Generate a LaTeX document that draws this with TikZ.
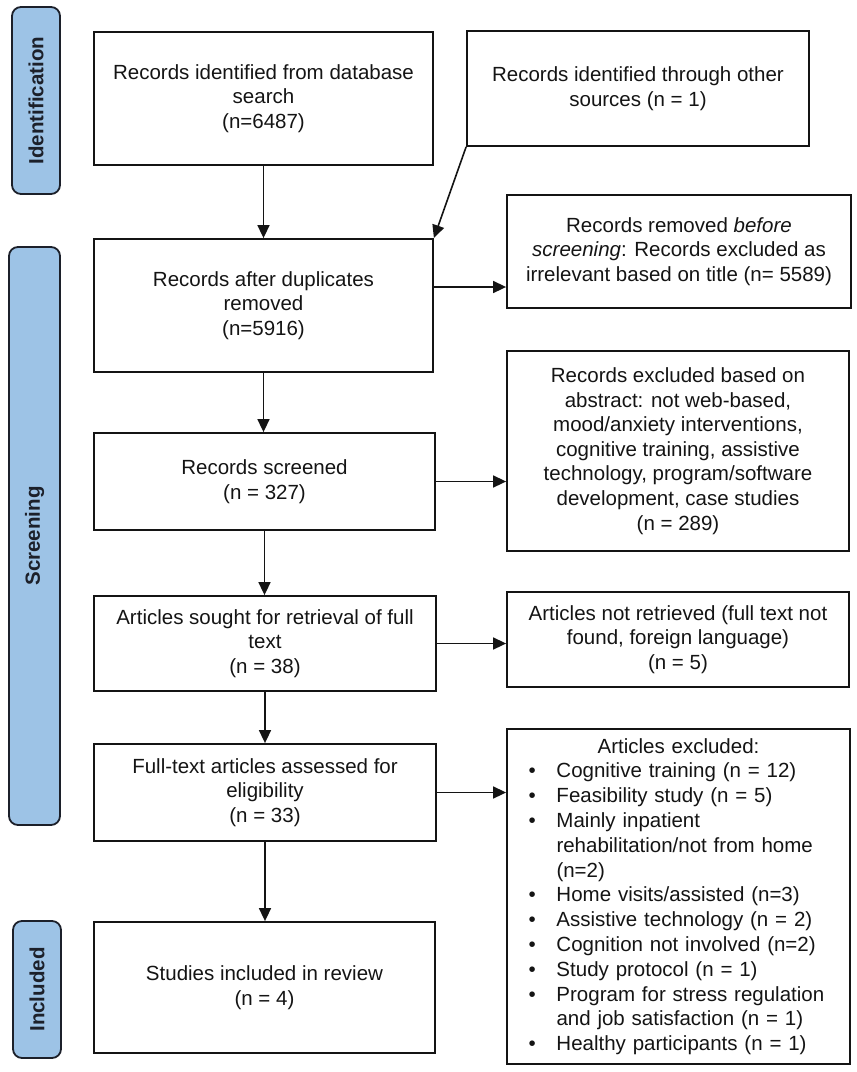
\documentclass[tikz,border=0pt]{standalone}
\usepackage{fontspec}
\setmainfont{Liberation Sans}
\usetikzlibrary{arrows.meta}
\definecolor{barblue}{RGB}{157,195,230}
\definecolor{bardraw}{RGB}{28,32,42}
\definecolor{ink}{RGB}{20,20,20}
\newcommand\bitem{\makebox[28pt][l]{\textbullet}}
\newcommand\bcont{\hspace*{28pt}}
\begin{document}
\begin{tikzpicture}[x=1pt,y=-1pt,
  box/.style={draw=ink, line width=1.8pt, align=center, inner sep=0pt, text=ink,
    font=\fontsize{20.5}{24.6}\selectfont},
  arr/.style={draw=ink, line width=1.6pt, -{Triangle[length=13pt,width=12pt]}},
  stage/.style={draw=bardraw, fill=barblue, line width=1.8pt, rounded corners=9pt,
    rotate=90, inner sep=0pt, text=bardraw, font=\fontsize{20.5}{24}\selectfont\bfseries}]
\useasboundingbox (0,0) rectangle (857,1072);
% stage bars
\node[stage, minimum width=187pt, minimum height=48pt] (s1) at (36,100.5) {Identification};
\node[stage, minimum width=578pt, minimum height=51pt] (s2) at (34.5,536) {Screening};
\node[stage, minimum width=137pt, minimum height=48pt] (s3) at (37,989.5) {Included};
% left column
\node[box, minimum width=339pt, minimum height=133pt] (b1) at (263.5,98.5)
  {Records identified from database\\search\\(n=6487)};
\node[box, minimum width=339pt, minimum height=133pt] (b3) at (263.5,305.5)
  {Records after duplicates\\removed\\(n=5916)};
\node[box, minimum width=341pt, minimum height=97pt] (b5) at (264.5,481.5)
  {Records screened\\(n = 327)};
\node[box, minimum width=342pt, minimum height=95pt] (b7) at (265,643.5)
  {Articles sought for retrieval of full\\text\\(n = 38)};
\node[box, minimum width=342pt, minimum height=97pt] (b9) at (265,792.5)
  {Full-text articles assessed for\\eligibility\\(n = 33)};
\node[box, minimum width=341pt, minimum height=131pt] (b11) at (264.5,987.5)
  {Studies included in review\\(n = 4)};
% right column
\node[box, minimum width=342pt, minimum height=115pt] (b2) at (638,88.5)
  {Records identified through other\\sources (n = 1)};
\node[box, minimum width=344pt, minimum height=113pt] (b4) at (679,251.5)
  {Records removed \textit{before}\\\textit{screening}: Records excluded as\\irrelevant based on title (n= 5589)};
\node[box, minimum width=342pt, minimum height=200pt] (b6) at (678,451)
  {Records excluded based on\\abstract: not web-based,\\mood/anxiety interventions,\\cognitive training, assistive\\technology, program/software\\development, case studies\\(n = 289)};
\node[box, minimum width=342pt, minimum height=95pt] (b8) at (678,639.5)
  {Articles not retrieved (full text not\\found, foreign language)\\(n = 5)};
\node[box, align=left, text width=300pt, minimum width=343pt, minimum height=335pt,
  font=\fontsize{20.5}{24.8}\selectfont] (b10) at (678.5,896.5)
  {\makebox[300pt]{Articles excluded:}\\
   \bitem Cognitive training (n = 12)\\
   \bitem Feasibility study (n = 5)\\
   \bitem Mainly inpatient\\
   \bcont rehabilitation/not from home\\
   \bcont (n=2)\\
   \bitem Home visits/assisted (n=3)\\
   \bitem Assistive technology (n = 2)\\
   \bitem Cognition not involved (n=2)\\
   \bitem Study protocol (n = 1)\\
   \bitem Program for stress regulation\\
   \bcont and job satisfaction (n = 1)\\
   \bitem Healthy participants (n = 1)};
% connectors
\draw[arr] (b1.south) -- (b3.north);
\draw[arr] (b2.south west) -- (b3.north east);
\coordinate (c3) at ([yshift=18.5pt]b3.east);
\draw[arr] (c3) -- (c3 -| b4.west);
\draw[arr] (b3.south) -- (b3.south |- b5.north);
\draw[arr] (b5.east) -- (b5.east -| b6.west);
\draw[arr] (b5.south) -- (b5.south |- b7.north);
\draw[arr] (b7.east) -- (b7.east -| b8.west);
\draw[arr] (b7.south) -- (b7.south |- b9.north);
\draw[arr] (b9.east) -- (b9.east -| b10.west);
\draw[arr] (b9.south) -- (b9.south |- b11.north);
\end{tikzpicture}
\end{document}
